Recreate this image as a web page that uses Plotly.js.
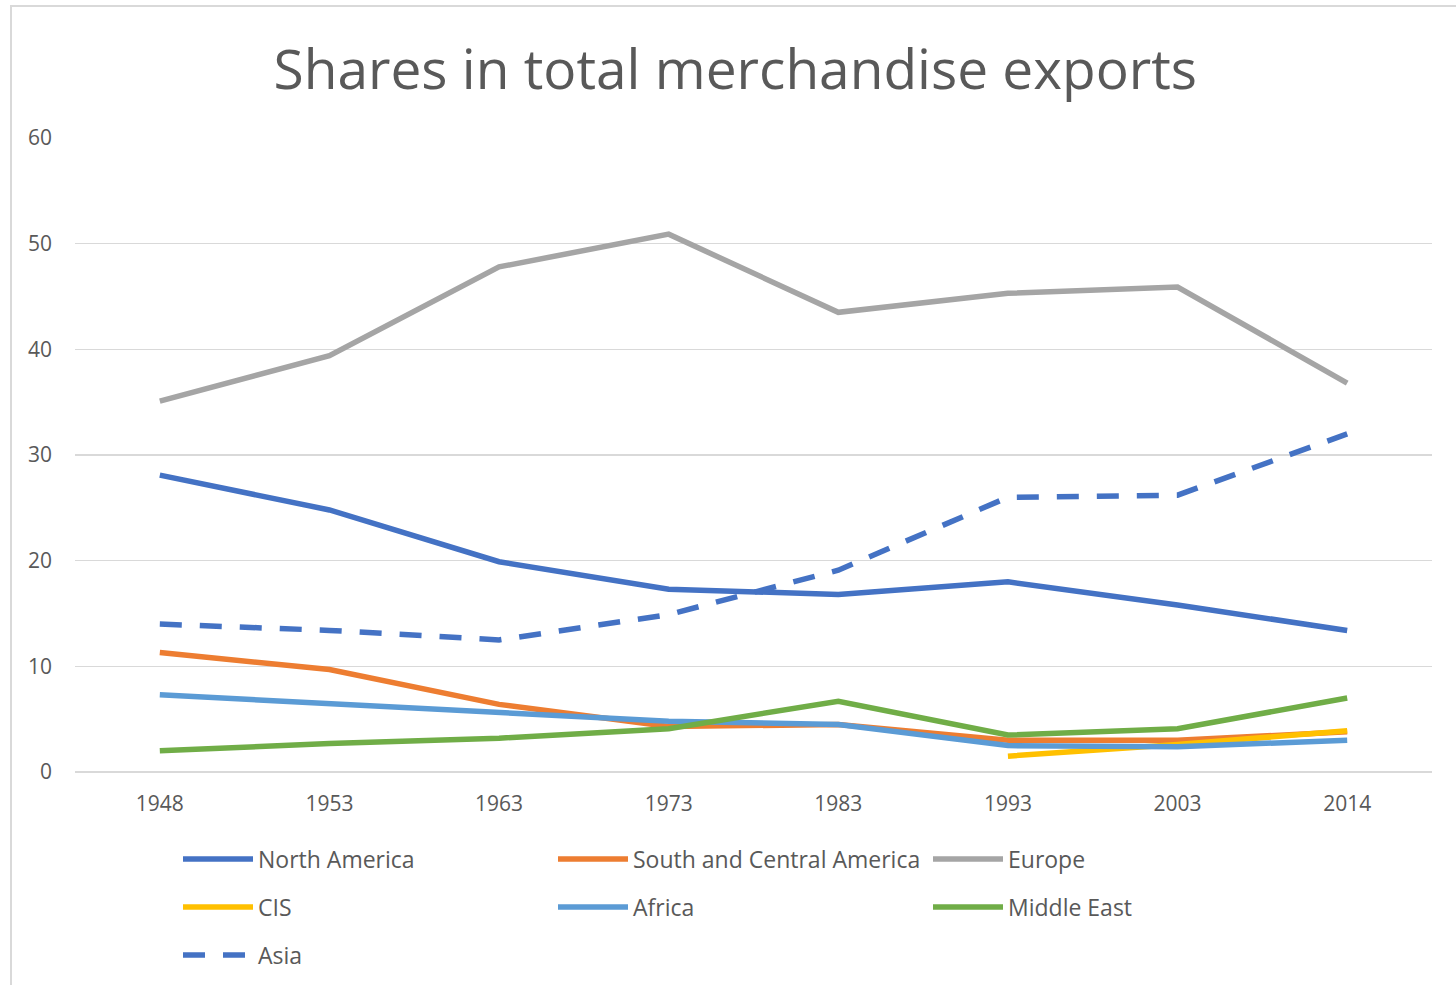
<!DOCTYPE html>
<html>
<head>
<meta charset="utf-8">
<script src="https://cdn.plot.ly/plotly-3.0.1.min.js"></script>
<style>
html,body{margin:0;padding:0;background:#fff;overflow:hidden;}
#chart{width:1456px;height:985px;}
#frame{position:absolute;left:10px;top:5px;width:1460px;height:1000px;border:2px solid #d9d9d9;pointer-events:none;}
</style>
</head>
<body>
<div id="chart"></div>
<div id="frame"></div>
<script>
const years = ["1948","1953","1963","1973","1983","1993","2003","2014"];
const northAmerica = [28.1, 24.8, 19.9, 17.3, 16.8, 18.0, 15.8, 13.4];
const southCentralAmerica = [11.3, 9.7, 6.4, 4.3, 4.5, 3.0, 3.0, 3.8];
const europe = [35.1, 39.4, 47.8, 50.9, 43.5, 45.3, 45.9, 36.8];
const cis = [null, null, null, null, null, 1.5, 2.6, 3.9];
const africa = [7.3, 6.5, 5.7, 4.8, 4.5, 2.5, 2.4, 3.0];
const middleEast = [2.0, 2.7, 3.2, 4.1, 6.7, 3.5, 4.1, 7.0];
const asia = [14.0, 13.4, 12.5, 14.9, 19.1, 26.0, 26.2, 32.0];
const yTicks = [0, 10, 20, 30, 40, 50, 60];

const FONT = "'Open Sans', 'Noto Sans', sans-serif";
const TXT = "#595959";

function tr(name, y, color, legend, dash){
  return {
    type: "scatter", mode: "lines", name: name, x: years, y: y,
    line: {color: color, width: 5.5, dash: dash || "solid"},
    legend: legend, connectgaps: false, hoverinfo: "skip"
  };
}

const data = [
  tr("North America", northAmerica, "#4472C4", "legend"),
  tr("South and Central America", southCentralAmerica, "#ED7D31", "legend"),
  tr("Europe", europe, "#A5A5A5", "legend"),
  tr("CIS", cis, "#FFC000", "legend2"),
  tr("Africa", africa, "#5B9BD5", "legend2"),
  tr("Middle East", middleEast, "#70AD47", "legend2"),
  tr("Asia", asia, "#4472C4", "legend3", "22px,18px")
];

function leg(y){
  return {
    orientation: "h", xref: "container", yref: "container",
    x: 178/1456, y: 1 - y/985, xanchor: "left", yanchor: "middle",
    entrywidth: 290, entrywidthmode: "pixels", itemwidth: 70,
    font: {family: FONT, size: 23, color: TXT},
    bgcolor: "rgba(0,0,0,0)", traceorder: "normal"
  };
}

const layout = {
  width: 1456, height: 985,
  paper_bgcolor: "#fff", plot_bgcolor: "#fff",
  margin: {l: 75, r: 24, t: 138, b: 213},
  title: {text: "Shares in total merchandise exports", x: 0.505, xanchor: "center",
          y: 1 - 70/985, yanchor: "middle", yref: "container",
          font: {family: FONT, size: 55, color: TXT}},
  xaxis: {type: "category", range: [-0.5, 7.5], showgrid: false, zeroline: false,
          showline: false, ticks: "", tickfont: {family: FONT, size: 21, color: TXT},
          ticklabelstandoff: 17, fixedrange: true},
  yaxis: {range: [0, 60], tickvals: yTicks, showgrid: true, gridcolor: "#D9D9D9", gridwidth: 1.5,
          zeroline: true, zerolinecolor: "#D9D9D9", zerolinewidth: 1.5, showline: false,
          ticks: "", tickfont: {family: FONT, size: 21, color: TXT}, ticklabelstandoff: 22,
          fixedrange: true},
  showlegend: true,
  legend: leg(859),
  legend2: leg(907),
  legend3: leg(955),
  hovermode: false
};

Plotly.newPlot("chart", data, layout, {displayModeBar: false, staticPlot: true});
</script>
</body>
</html>
